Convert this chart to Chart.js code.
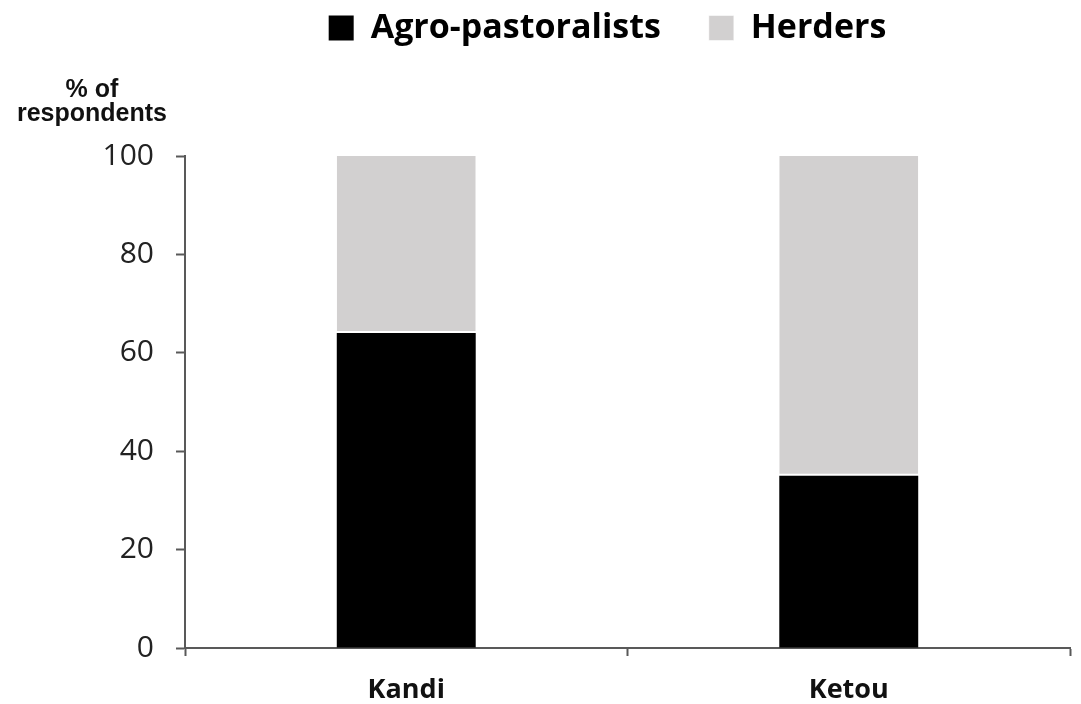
<!DOCTYPE html>
<html lang="en">
<head>
  <meta charset="UTF-8" />
  <title>Respondents by site</title>
  <script src="https://cdn.jsdelivr.net/npm/chart.js"></script>
  <style>
    html, body { margin: 0; padding: 0; background: #fff; }
    #wrap { width: 1081px; height: 704px; }
  </style>
</head>
<body>
  <div id="wrap"><canvas id="chart" width="1081" height="704"></canvas></div>

  <script>
    // data
    const sites = ["Kandi", "Ketou"];
    const agroPastoralists = [64, 35];
    const herders = [36, 65];
    const yTicks = [0, 20, 40, 60, 80, 100];

    const axisColor = "#595959";

    // y axis title, written horizontally above the axis
    const yTitle = {
      id: "yTitle",
      afterDraw(chart) {
        const c = chart.ctx;
        c.save();
        c.fillStyle = "#111";
        c.font = "bold 25px 'Liberation Sans'";
        c.textAlign = "center";
        c.textBaseline = "alphabetic";
        c.fillText("% of", 92, 97);
        c.fillText("respondents", 92, 121);
        c.restore();
      }
    };

    // legend takes the space above the plot, then is moved where the original has it
    const legendPlace = {
      id: "legendPlace",
      afterInit(chart) {
        const lg = chart.legend;
        const fit = lg.fit;
        lg.fit = function () {
          fit.call(this);
          this.height = 156;
        };
      },
      afterLayout(chart) {
        const lg = chart.legend;
        lg.top = 13 - 50;
        lg.left = 134;
        lg.right = 1081;
      }
    };

    new Chart(document.getElementById("chart"), {
      type: "bar",
      data: {
        labels: sites,
        datasets: [
          {
            label: "Agro-pastoralists",
            data: agroPastoralists,
            backgroundColor: "#000000",
            borderWidth: 0,
            barPercentage: 0.314,
            categoryPercentage: 1
          },
          {
            label: "Herders",
            data: herders,
            backgroundColor: "#d2d0d0",
            borderColor: "#ffffff",
            borderWidth: { bottom: 2, top: 0, left: 0, right: 0 },
            borderSkipped: false,
            barPercentage: 0.314,
            categoryPercentage: 1
          }
        ]
      },
      options: {
        responsive: false,
        animation: false,
        layout: { padding: { left: 0, right: 11, top: 0, bottom: 0 } },
        plugins: {
          tooltip: { enabled: false },
          legend: {
            position: "top",
            labels: {
              color: "#000",
              font: { family: "'Open Sans'", size: 34, weight: "bold" },
              boxWidth: 25,
              boxHeight: 25,
              padding: 48
            }
          }
        },
        scales: {
          x: {
            stacked: true,
            afterFit(s) { s.height = 56; },
            grid: {
              display: true,
              drawOnChartArea: false,
              drawTicks: true,
              tickLength: 8,
              tickColor: axisColor,
              tickWidth: 2
            },
            border: { display: true, color: axisColor, width: 2 },
            ticks: {
              color: "#111",
              padding: 18,
              font: { family: "'Open Sans'", size: 27, weight: "bold" }
            }
          },
          y: {
            stacked: true,
            min: 0,
            max: 100,
            afterFit(s) { s.width = 185; },
            afterBuildTicks(s) { s.ticks = yTicks.map(v => ({ value: v })); },
            grid: {
              display: true,
              drawOnChartArea: false,
              drawTicks: true,
              tickLength: 9,
              tickColor: axisColor,
              tickWidth: 2
            },
            border: { display: true, color: axisColor, width: 2 },
            ticks: {
              color: "#222",
              padding: 22,
              font: { family: "'Open Sans'", size: 30 }
            }
          }
        }
      },
      plugins: [yTitle, legendPlace]
    });
  </script>
</body>
</html>
